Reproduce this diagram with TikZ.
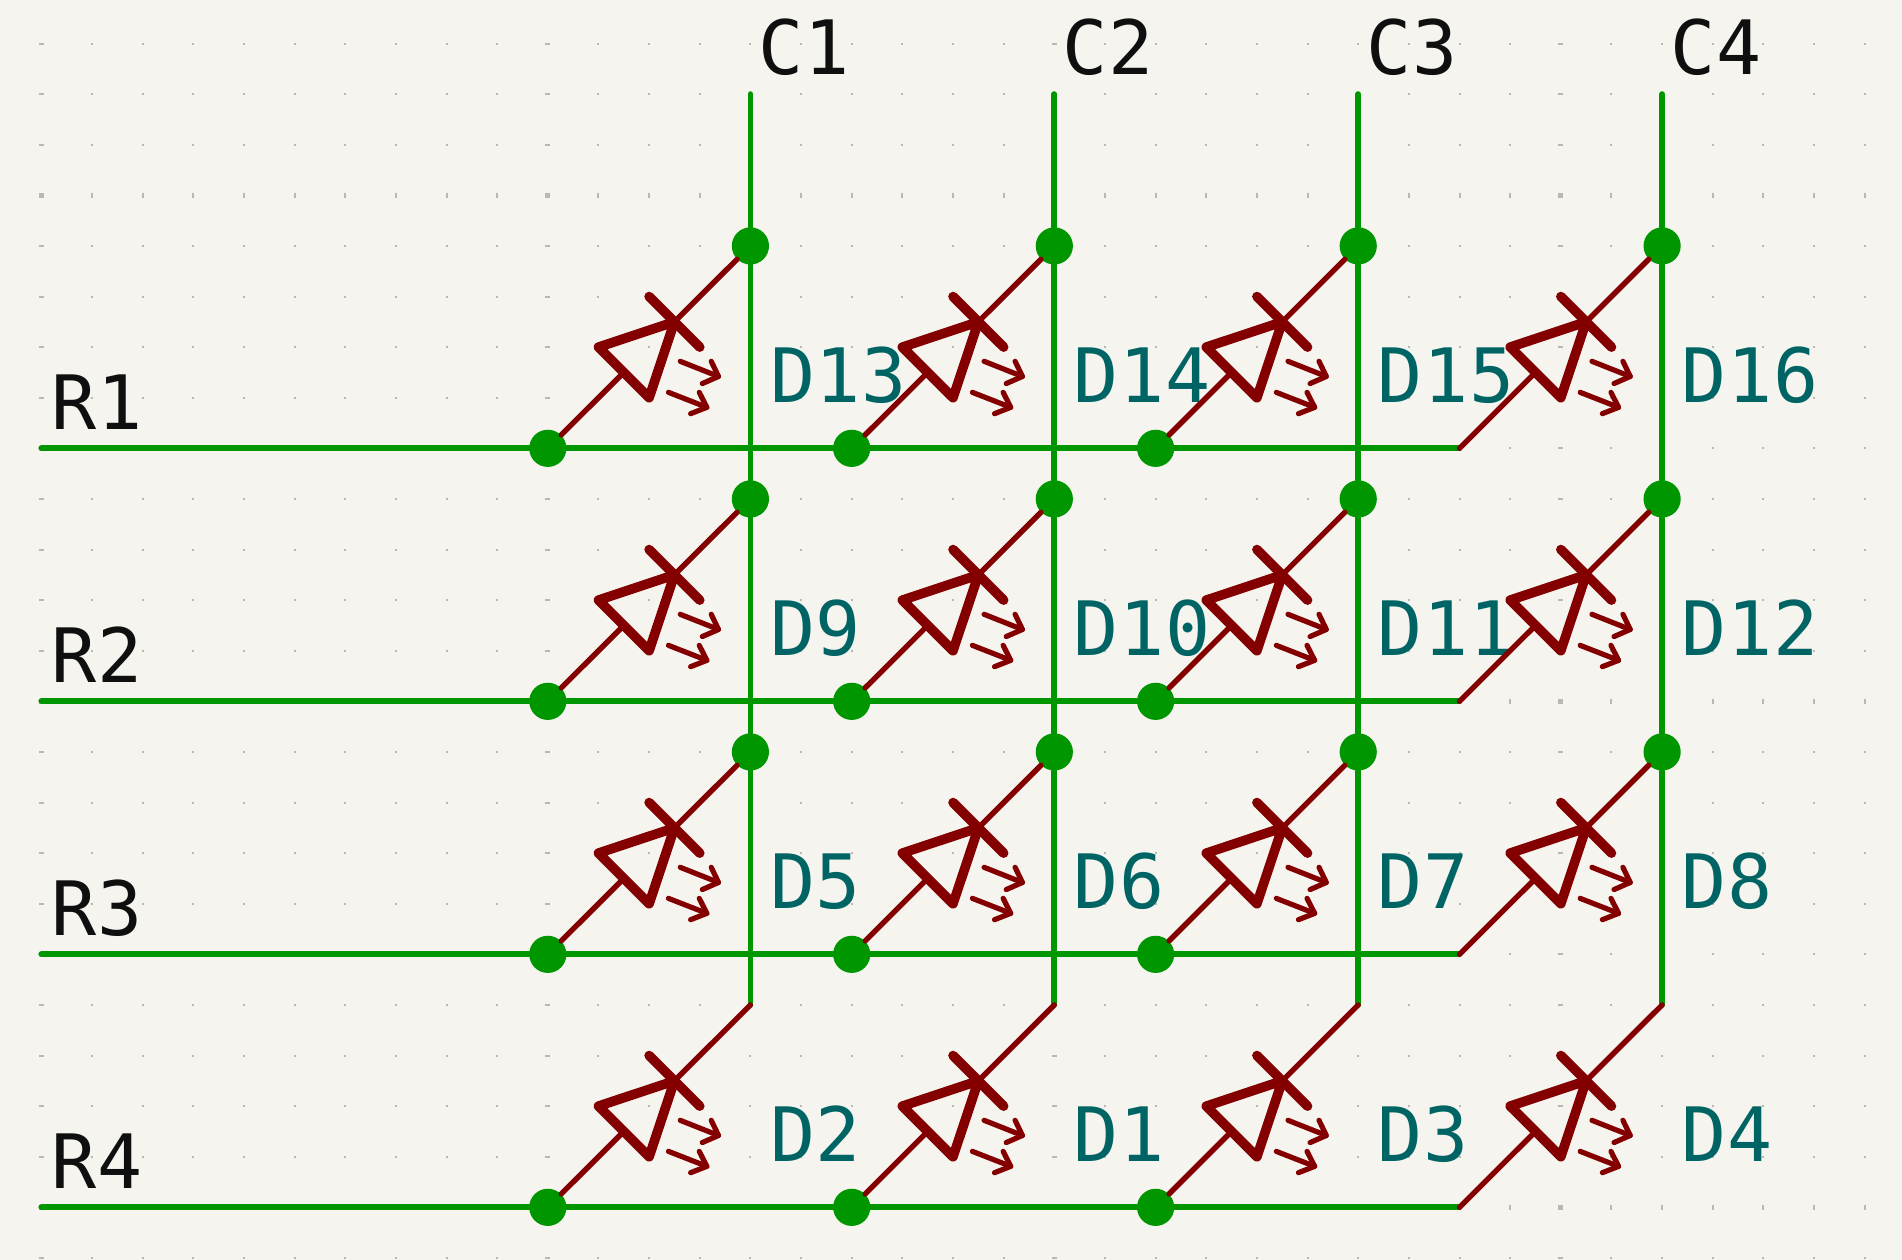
\documentclass[tikz,border=0pt]{standalone}
\usepackage{fontspec}
\newfontfamily\kifont[LetterSpace=1]{DejaVu Sans Mono}
\definecolor{paper}{HTML}{F5F4EF}
\definecolor{wirecol}{HTML}{009600}
\definecolor{ledcol}{HTML}{840000}
\definecolor{refcol}{HTML}{006464}
\definecolor{netcol}{HTML}{0F0F0F}
\definecolor{dotcol}{HTML}{B8B8B8}

\begin{document}
\begin{tikzpicture}[x=25.325pt, y=-25.3pt,
    wire/.style={wirecol, line width=2.9pt, line cap=round},
    pin/.style={ledcol, line width=2.7pt, line cap=round},
    body/.style={ledcol, line width=4.8pt, line cap=round, line join=round},
    ray/.style={ledcol, line width=2.6pt, line cap=round, line join=round},
    junction/.style={circle, fill=wirecol, inner sep=0pt, minimum size=18.6pt},
    net/.style={font=\kifont\fontsize{37.5}{38}\selectfont, text=netcol, inner sep=0pt, anchor=base west},
    ref/.style={font=\kifont\fontsize{37.5}{38}\selectfont, text=refcol, inner sep=0pt, anchor=base west}]
      \fill[paper] (-0.8154,-3.86) rectangle (36.736,21.04);
      \useasboundingbox (-0.8154,-3.86) rectangle (36.736,21.04);

      % grid
      \foreach \i in {0,...,36} \foreach \j in {-3,...,21} {
        \pgfmathsetmacro{\dw}{mod(\i,10)==0 ? 1.25 : 0.5}
        \pgfmathsetmacro{\dh}{mod(\j+30,10)==0 ? 1.25 : 0.5}
        \fill[dotcol] (\i,\j) ++(-\dw pt,-\dh pt) rectangle ++(2*\dw pt,2*\dh pt);
      }

      % labels go under the leds
      \foreach \r/\c/\lab in {1/1/D13,1/2/D14,1/3/D15,1/4/D16,
                              2/1/D9,2/2/D10,2/3/D11,2/4/D12,
                              3/1/D5,3/2/D6,3/3/D7,3/4/D8,
                              4/1/D2,4/2/D1,4/3/D3,4/4/D4} {
        \pgfmathtruncatemacro{\lx}{14+6*(\c-1)}
        \pgfmathtruncatemacro{\ly}{5*\r}
        \node[ref] (\lab) at (\lx+0.38,\ly-0.9) {\lab};
      }

      % junctions and free wire ends
      \foreach \c in {1,2,3,4} {
        \pgfmathtruncatemacro{\cx}{14+6*(\c-1)}
        \coordinate (top\c) at (\cx,-2);
        \coordinate (t4\c) at (\cx,16);
        \node[junction] (t1\c) at (\cx,1) {};
        \node[junction] (t2\c) at (\cx,6) {};
        \node[junction] (t3\c) at (\cx,11) {};
        \node[net] (C\c) at (\cx+0.16,-2.38) {C\c};
      }
      \foreach \r in {1,2,3,4} {
        \pgfmathtruncatemacro{\ry}{5*\r}
        \coordinate (left\r) at (0,\ry);
        \coordinate (b\r4) at (28,\ry);
        \node[junction] (b\r1) at (10,\ry) {};
        \node[junction] (b\r2) at (16,\ry) {};
        \node[junction] (b\r3) at (22,\ry) {};
        \node[net] (R\r) at (0.2,\ry-0.37) {R\r};
      }

      % wires
      \foreach \c in {1,2,3,4}
        \draw[wire] (top\c) -- (t1\c) -- (t2\c) -- (t3\c) -- (t4\c);
      \foreach \r in {1,2,3,4}
        \draw[wire] (left\r) -- (b\r1) -- (b\r2) -- (b\r3) -- (b\r4);

      % leds
      \foreach \r in {1,2,3,4} \foreach \c in {1,2,3,4} {
        \pgfmathtruncatemacro{\lx}{10+6*(\c-1)}
        \pgfmathtruncatemacro{\ly}{5*\r}
        \begin{scope}[shift={(\lx,\ly)}]
          \coordinate (an\r\c) at (1.5,-1.5);
          \coordinate (ka\r\c) at (2.5,-2.5);
          \draw[pin] (b\r\c) -- (an\r\c);
          \draw[pin] (ka\r\c) -- (t\r\c);
          \draw[body] (1,-2) -- (ka\r\c) -- (2,-1) -- cycle;
          \draw[body] (2,-3) -- (3,-2);
          \draw[ray] (2.614,-1.72) -- (3.37,-1.42);
          \draw[ray] (3.226,-1.72) -- (3.37,-1.42) -- (3.05,-1.28);
          \draw[ray] (2.383,-1.106) -- (3.14,-0.81);
          \draw[ray] (2.99,-1.106) -- (3.14,-0.81) -- (2.82,-0.685);
        \end{scope}
      }
    \end{tikzpicture}
\end{document}
